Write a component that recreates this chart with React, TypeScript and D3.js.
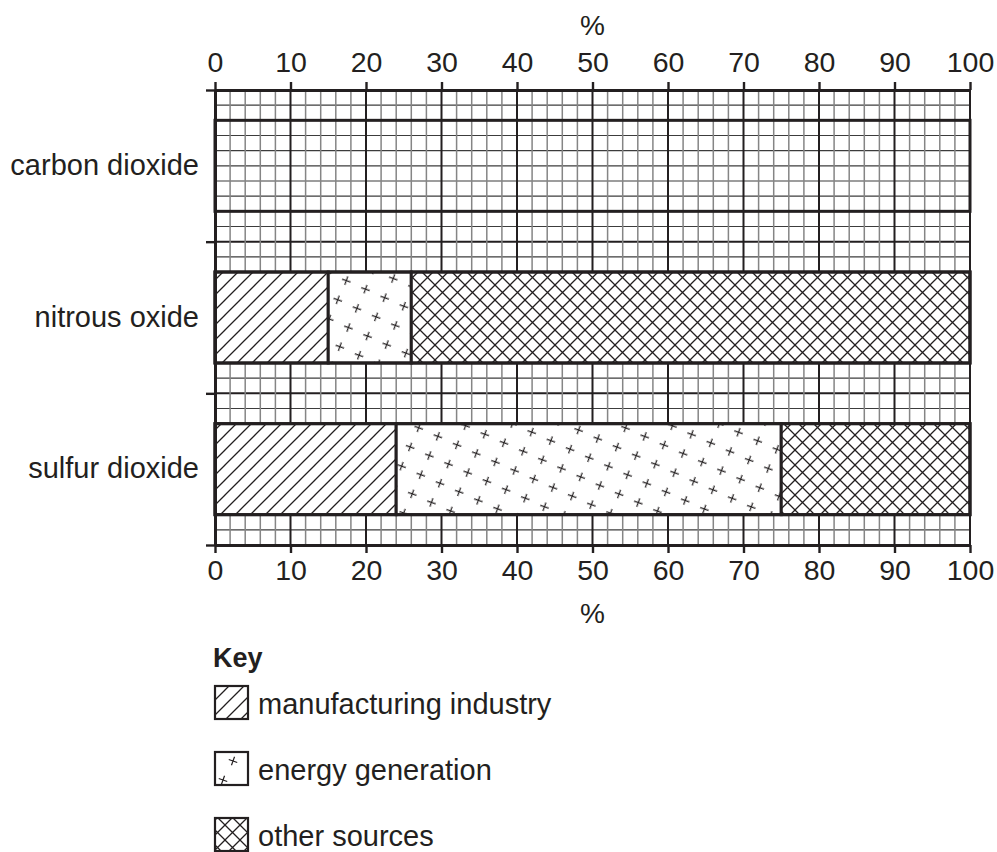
import React, { useEffect, useRef } from 'react';
import * as d3 from 'd3';

const categories = ['carbon dioxide', 'nitrous oxide', 'sulfur dioxide'];
const sources = ['manufacturing industry', 'energy generation', 'other sources'];
// % share per source, carbon dioxide row is left blank
const manufacturing = [null, 15, 24];
const energy = [null, 11, 51];
const other = [null, 74, 25];
const xTicks = [0, 10, 20, 30, 40, 50, 60, 70, 80, 90, 100];

const W = 997;
const H = 852;
const FONT = '"Liberation Sans", Arial, Helvetica, sans-serif';
const INK = '#231f20';
const keys = ['manufacturing', 'energy', 'other'];
const fills = ['url(#hatch)', 'url(#plus)', 'url(#cross)'];

function App() {
    const ref = useRef<SVGSVGElement>(null);

    useEffect(() => {
        const svg = d3.select(ref.current);
        svg.selectAll('*').remove();

        const x = d3.scaleLinear().domain([0, 100]).range([215, 970]);
        const y = d3.scaleBand().domain(categories).range([90, 545]).paddingInner(0.4).paddingOuter(0.2);
        const cell = d3.scaleLinear().domain([0, 30]).range([90, 545]);

        // patterns
        const defs = svg.append('defs');
        const hatch = defs.append('pattern').attr('id', 'hatch')
            .attr('patternUnits', 'userSpaceOnUse').attr('width', 15).attr('height', 15);
        hatch.append('path').attr('d', 'M-4,4 L4,-4 M0,15 L15,0 M11,19 L19,11')
            .attr('stroke', INK).attr('stroke-width', 1.3);
        const cross = defs.append('pattern').attr('id', 'cross')
            .attr('patternUnits', 'userSpaceOnUse').attr('width', 15).attr('height', 15);
        cross.append('path')
            .attr('d', 'M-4,4 L4,-4 M0,15 L15,0 M11,19 L19,11 M-4,11 L4,19 M0,0 L15,15 M11,-4 L19,4')
            .attr('stroke', INK).attr('stroke-width', 1.3);
        const plus = defs.append('pattern').attr('id', 'plus')
            .attr('patternUnits', 'userSpaceOnUse').attr('width', 21).attr('height', 21)
            .attr('patternTransform', 'rotate(24)');
        plus.append('path').attr('d', 'M10.5,6 V15 M6,10.5 H15')
            .attr('transform', 'rotate(-4 10.5 10.5)')
            .attr('stroke', INK).attr('stroke-width', 1.2);

        // grid
        const grid = svg.append('g');
        grid.selectAll('line.h').data(d3.range(0, 31)).join('line')
            .attr('x1', x(0)).attr('x2', x(100))
            .attr('y1', d => cell(d)).attr('y2', d => cell(d))
            .attr('stroke', d => d % 10 === 0 ? INK : '#3c3c3c')
            .attr('stroke-width', d => d % 10 === 0 ? 2 : 1.2);
        grid.selectAll('line.v').data(d3.range(0, 101, 2)).join('line')
            .attr('y1', cell(0)).attr('y2', cell(30))
            .attr('x1', d => x(d)).attr('x2', d => x(d))
            .attr('stroke', d => d % 10 === 0 ? INK : '#858585')
            .attr('stroke-width', d => d % 10 === 0 ? 2 : 1.5);

        // bars
        const table = categories.map((c, i) => ({
            category: c,
            manufacturing: manufacturing[i] ?? 0,
            energy: energy[i] ?? 0,
            other: other[i] ?? 0,
        }));
        const series = d3.stack().keys(keys)(table as any);
        const bars = svg.append('g');
        series.forEach((s, k) => {
            s.forEach((seg: any) => {
                if (seg[1] - seg[0] <= 0) return;
                const cat = seg.data.category;
                const r = {
                    x: x(seg[0]), y: y(cat)!, w: x(seg[1]) - x(seg[0]), h: y.bandwidth(),
                };
                bars.append('rect').attr('x', r.x).attr('y', r.y).attr('width', r.w).attr('height', r.h)
                    .attr('fill', '#fff');
                bars.append('rect').attr('x', r.x).attr('y', r.y).attr('width', r.w).attr('height', r.h)
                    .attr('fill', fills[k]).attr('stroke', INK).attr('stroke-width', 3);
            });
        });
        // outline of each row (carbon dioxide stays empty)
        bars.selectAll('rect.row').data(categories).join('rect')
            .attr('x', x(0)).attr('y', d => y(d)!)
            .attr('width', x(100) - x(0)).attr('height', y.bandwidth())
            .attr('fill', 'none').attr('stroke', INK).attr('stroke-width', 3);

        // axes
        const top = svg.append('g').attr('transform', `translate(0,${cell(0)})`)
            .call(d3.axisTop(x).tickValues(xTicks).tickSize(8).tickSizeOuter(0).tickPadding(10));
        const bottom = svg.append('g').attr('transform', `translate(0,${cell(30)})`)
            .call(d3.axisBottom(x).tickValues(xTicks).tickSize(8).tickSizeOuter(0).tickPadding(7));
        const left = svg.append('g').attr('transform', `translate(${x(0)},0)`)
            .call(d3.axisLeft(cell).tickValues([0, 10, 20, 30]).tickSize(9).tickSizeOuter(0).tickFormat(() => ''));
        [top, bottom, left].forEach(a => {
            a.select('.domain').attr('stroke', INK).attr('stroke-width', 3);
            a.selectAll('.tick line').attr('stroke', INK).attr('stroke-width', 2.4);
            a.selectAll('.tick text').attr('fill', INK).attr('font-size', 28.5).attr('font-family', FONT);
        });

        // axis titles
        svg.append('text').attr('x', (x(0) + x(100)) / 2).attr('y', 35).attr('text-anchor', 'middle')
            .attr('font-size', 28).attr('font-family', FONT).attr('fill', INK).text('%');
        svg.append('text').attr('x', (x(0) + x(100)) / 2).attr('y', 623).attr('text-anchor', 'middle')
            .attr('font-size', 28).attr('font-family', FONT).attr('fill', INK).text('%');

        // category labels
        svg.append('g').selectAll('text').data(categories).join('text')
            .attr('x', 199).attr('y', d => y(d)! + y.bandwidth() / 2 + 9)
            .attr('text-anchor', 'end').attr('font-size', 29).attr('font-family', FONT).attr('fill', INK)
            .text(d => d);

        // key
        const key = svg.append('g');
        key.append('text').attr('x', 213).attr('y', 667).attr('font-size', 27).attr('font-weight', 'bold')
            .attr('font-family', FONT).attr('fill', INK).text('Key');
        const boxFills = ['url(#hatch)', '#fff', 'url(#cross)'];
        sources.forEach((s, i) => {
            const by = 686 + i * 66;
            key.append('rect').attr('x', 215).attr('y', by).attr('width', 33).attr('height', 33)
                .attr('fill', '#fff');
            key.append('rect').attr('x', 215).attr('y', by).attr('width', 33).attr('height', 33)
                .attr('fill', boxFills[i]).attr('stroke', INK).attr('stroke-width', 2.2);
            if (i === 1) {
                [[233, by + 9], [223, by + 28]].forEach(([px, py]) => {
                    key.append('path').attr('d', `M${px},${py - 4.5} V${py + 4.5} M${px - 4.5},${py} H${px + 4.5}`)
                        .attr('transform', `rotate(20 ${px} ${py})`)
                        .attr('stroke', INK).attr('stroke-width', 1.2);
                });
            }
            key.append('text').attr('x', 258).attr('y', by + 28).attr('font-size', 29)
                .attr('font-family', FONT).attr('fill', INK).text(s);
        });
    }, []);

    return (
        <svg ref={ref} width={W} height={H} style={{ position: 'absolute', left: 0, top: 0, background: '#fff' }} />
    );
}

export default App;
